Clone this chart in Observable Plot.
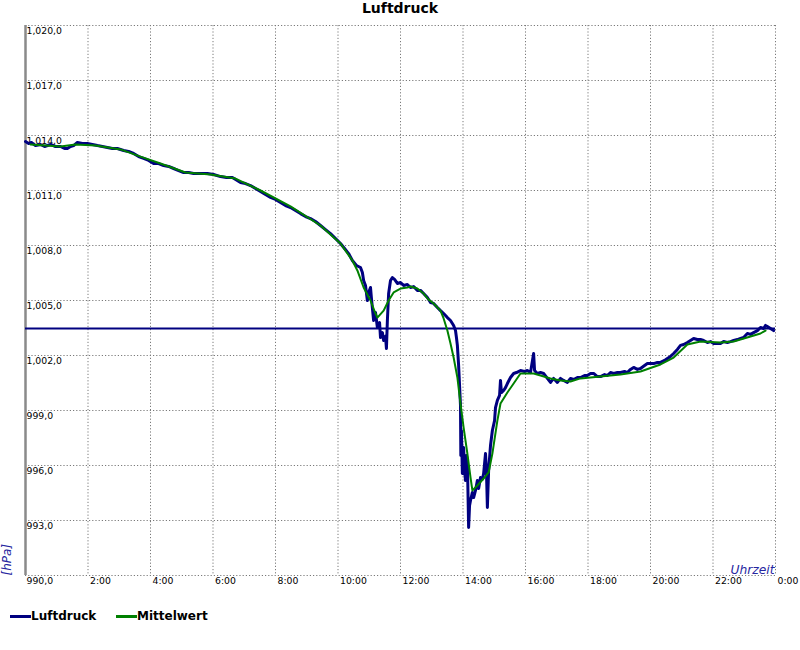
<!DOCTYPE html>
<html>
<head>
<meta charset="utf-8">
<script src="https://cdn.jsdelivr.net/npm/d3@7"></script>
<script src="https://cdn.jsdelivr.net/npm/@observablehq/plot@0.6"></script>
<style>
  html, body { margin: 0; padding: 0; background: #fff; font-family: "DejaVu Sans", sans-serif; }
  #title { height: 18px; line-height: 17px; text-align: center; font-weight: bold; font-size: 14px; color: #000; }
  #chart svg { display: block; overflow: visible; }
  #legend { position: relative; height: 16px; margin-top: 8px; font-size: 12px; font-weight: bold; }
  .sw { position: absolute; top: 7px; height: 3px; }
  .lt { position: absolute; top: 0; line-height: 16px; }
</style>
</head>
<body>
<div id="title">Luftdruck</div>
<div id="chart"></div>
<div id="legend">
  <div class="sw" style="left:10px;width:21px;background:#000080"></div><div class="lt" style="left:31px">Luftdruck</div>
  <div class="sw" style="left:116px;width:21px;background:#008000"></div><div class="lt" style="left:137px">Mittelwert</div>
</div>
<script>
// Time in hours since 0:00, pressure in hPa
const luftdruckZeit = [0.00,0.10,0.19,0.32,0.48,0.61,0.80,0.96,1.12,1.25,1.34,1.44,1.54,1.66,1.82,1.98,2.14,2.30,2.46,2.62,2.78,2.94,3.14,3.30,3.46,3.62,3.78,3.94,4.10,4.26,4.42,4.58,4.74,4.90,5.06,5.22,5.38,5.60,5.82,6.02,6.24,6.43,6.62,6.88,7.04,7.20,7.36,7.52,7.68,7.84,8.00,8.16,8.32,8.48,8.64,8.80,8.96,9.12,9.28,9.44,9.60,9.76,9.92,10.08,10.21,10.34,10.46,10.59,10.72,10.78,10.82,10.88,10.94,10.98,11.04,11.07,11.14,11.20,11.26,11.33,11.36,11.42,11.46,11.52,11.55,11.58,11.62,11.68,11.74,11.81,11.90,12.00,12.10,12.22,12.32,12.42,12.54,12.64,12.74,12.86,12.96,13.06,13.18,13.28,13.38,13.50,13.60,13.70,13.76,13.79,13.82,13.86,13.89,13.92,13.93,13.95,13.98,14.02,14.05,14.08,14.11,14.14,14.18,14.21,14.24,14.30,14.34,14.40,14.46,14.50,14.56,14.62,14.66,14.72,14.75,14.78,14.82,14.88,14.94,15.01,15.04,15.10,15.17,15.20,15.23,15.30,15.36,15.42,15.52,15.62,15.71,15.84,15.97,16.06,16.16,16.26,16.29,16.38,16.48,16.58,16.70,16.80,16.90,17.02,17.12,17.22,17.34,17.44,17.54,17.66,17.76,17.89,17.98,18.08,18.18,18.30,18.40,18.53,18.62,18.72,18.82,18.94,19.04,19.17,19.26,19.36,19.46,19.58,19.68,19.81,19.90,20.00,20.10,20.22,20.32,20.45,20.54,20.64,20.74,20.86,20.96,21.06,21.18,21.28,21.38,21.50,21.60,21.70,21.82,21.92,22.02,22.14,22.24,22.34,22.46,22.56,22.66,22.78,22.88,22.98,23.10,23.20,23.30,23.42,23.52,23.62,23.68,23.74,23.84,23.94];
const luftdruckWert = [1013.67,1013.56,1013.62,1013.45,1013.51,1013.40,1013.51,1013.40,1013.40,1013.29,1013.29,1013.40,1013.45,1013.62,1013.56,1013.56,1013.51,1013.45,1013.40,1013.35,1013.29,1013.29,1013.18,1013.13,1013.02,1012.85,1012.75,1012.64,1012.47,1012.47,1012.36,1012.31,1012.20,1012.09,1011.98,1011.98,1011.93,1011.93,1011.93,1011.87,1011.76,1011.71,1011.71,1011.44,1011.38,1011.27,1011.11,1010.95,1010.78,1010.62,1010.51,1010.35,1010.18,1010.07,1009.91,1009.74,1009.58,1009.47,1009.31,1009.09,1008.87,1008.65,1008.38,1008.11,1007.84,1007.56,1007.18,1006.91,1006.80,1006.53,1006.09,1005.82,1005.00,1005.44,1005.71,1005.11,1003.91,1004.35,1003.53,1003.80,1002.98,1003.25,1002.82,1003.04,1002.38,1003.91,1005.38,1006.09,1006.25,1006.15,1005.93,1005.98,1005.82,1005.87,1005.71,1005.76,1005.55,1005.55,1005.38,1005.16,1004.89,1004.84,1004.62,1004.45,1004.29,1004.07,1003.91,1003.64,1003.36,1002.98,1002.55,1001.45,1000.36,999.27,996.55,997.91,995.56,996.98,995.73,995.18,996.55,996.27,992.62,993.82,994.09,994.53,994.25,994.64,995.18,994.75,995.35,995.25,995.56,996.65,995.73,993.71,995.73,997.09,997.91,998.45,999.16,999.55,999.82,1000.64,999.98,1000.09,1000.25,1000.47,1000.80,1001.02,1001.07,1001.18,1001.13,1001.18,1001.07,1002.11,1001.18,1001.02,1001.07,1001.02,1000.75,1000.53,1000.75,1000.53,1000.75,1000.64,1000.53,1000.75,1000.69,1000.80,1000.80,1000.91,1000.91,1001.02,1001.02,1000.85,1000.85,1000.96,1000.91,1001.07,1001.02,1001.07,1001.07,1001.13,1001.07,1001.24,1001.35,1001.24,1001.29,1001.45,1001.56,1001.56,1001.56,1001.62,1001.62,1001.73,1001.84,1001.95,1002.11,1002.33,1002.55,1002.60,1002.71,1002.82,1002.93,1002.87,1002.87,1002.82,1002.71,1002.76,1002.65,1002.65,1002.65,1002.76,1002.71,1002.76,1002.82,1002.87,1002.93,1002.98,1003.20,1003.15,1003.25,1003.36,1003.53,1003.47,1003.64,1003.58,1003.47,1003.36];

const mittelZeit = [0.16,0.64,1.12,1.60,2.24,3.04,3.68,4.32,5.12,5.92,6.72,7.52,8.48,9.44,10.08,10.46,10.62,10.82,11.04,11.20,11.26,11.46,11.62,11.78,12.00,12.22,12.32,12.54,12.74,12.90,13.06,13.28,13.38,13.50,13.60,13.70,13.82,13.92,14.02,14.14,14.24,14.30,14.46,14.66,14.82,14.94,15.10,15.20,15.42,15.62,15.84,16.06,16.26,16.48,16.80,17.12,17.44,17.76,18.40,19.04,19.68,20.32,20.74,21.18,21.60,22.24,22.66,23.20,23.52,23.68];
const mittelWert = [1013.51,1013.45,1013.40,1013.51,1013.45,1013.24,1012.85,1012.47,1011.98,1011.87,1011.65,1011.00,1010.13,1009.09,1008.11,1007.18,1006.64,1005.71,1005.00,1004.29,1004.07,1004.45,1005.00,1005.44,1005.65,1005.71,1005.76,1005.65,1005.38,1005.05,1004.84,1004.45,1004.02,1003.36,1002.65,1001.89,1000.80,999.38,998.07,996.65,995.35,994.64,994.91,995.29,995.62,996.65,998.45,999.38,999.98,1000.47,1001.02,1001.02,1001.02,1000.91,1000.75,1000.64,1000.58,1000.75,1000.85,1000.96,1001.13,1001.51,1001.89,1002.60,1002.76,1002.71,1002.76,1003.04,1003.20,1003.36];

const durchschnitt = 1003.47;

const xTicks = [2,4,6,8,10,12,14,16,18,20,22,24];
const xTickLabels = ["2:00","4:00","6:00","8:00","10:00","12:00","14:00","16:00","18:00","20:00","22:00","0:00"];
const yTicks = [990,993,996,999,1002,1005,1008,1011,1014,1017,1020];
const yTickLabels = ["990,0","993,0","996,0","999,0","1,002,0","1,005,0","1,008,0","1,011,0","1,014,0","1,017,0","1,020,0"];

const luftdruck = luftdruckZeit.map((t, i) => ({t, p: luftdruckWert[i]}));
const mittel = mittelZeit.map((t, i) => ({t, p: mittelWert[i]}));
const xLab = xTicks.map((v, i) => ({v, label: xTickLabels[i]}));
const yLab = yTicks.map((v, i) => ({v, label: yTickLabels[i]}));

const chart = Plot.plot({
  width: 800,
  height: 582,
  marginTop: 7,
  marginBottom: 25,
  marginLeft: 25,
  marginRight: 25,
  style: {fontFamily: "DejaVu Sans, sans-serif", fontSize: "9.3px", background: "#fff", overflow: "visible"},
  x: {domain: [0, 24], axis: null},
  y: {domain: [990, 1020], axis: null},
  marks: [
    Plot.ruleX(xTicks, {stroke: "#7a7a7a", strokeDasharray: "1.2,2", strokeWidth: 1}),
    Plot.ruleY(yTicks, {stroke: "#7a7a7a", strokeDasharray: "1.2,2", strokeWidth: 1}),
    Plot.ruleX([0], {stroke: "#8a8a8a", strokeWidth: 2.5}),
    Plot.text(yLab, {x: 0, y: "v", text: "label", textAnchor: "start", lineAnchor: "top", dx: 1, dy: 1.5, fill: "#000"}),
    Plot.text(xLab, {x: "v", y: 990, text: "label", textAnchor: "start", lineAnchor: "top", dx: 2, dy: 1.5, fill: "#000"}),
    Plot.text(["[hPa]"], {frameAnchor: "bottom-left", dx: -15, dy: 0, rotate: -90, textAnchor: "start", fontStyle: "italic", fontSize: 12, fill: "#2626a0"}),
    Plot.text(["Uhrzeit"], {frameAnchor: "bottom-right", dx: -1, dy: -2, textAnchor: "end", lineAnchor: "bottom", fontStyle: "italic", fontSize: 12.3, fill: "#2626a0"}),
    Plot.line(luftdruck, {x: "t", y: "p", stroke: "#000080", strokeWidth: 3}),
    Plot.ruleY([durchschnitt], {stroke: "#000080", strokeWidth: 2}),
    Plot.line(mittel, {x: "t", y: "p", stroke: "#008000", strokeWidth: 2})
  ]
});
document.getElementById("chart").appendChild(chart);
</script>
</body>
</html>
